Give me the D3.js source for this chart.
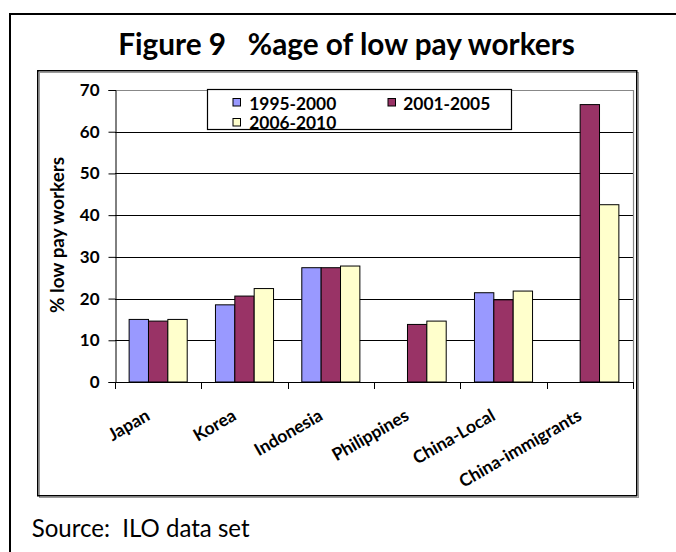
<!DOCTYPE html>
<html>
<head>
<meta charset="utf-8">
<script src="https://cdn.jsdelivr.net/npm/d3@7/dist/d3.min.js"></script>
<style>
  html, body { margin: 0; padding: 0; background: #fff; }
  svg text { font-family: Lato, "Open Sans", sans-serif; white-space: pre; }
</style>
</head>
<body>
<svg id="chart" width="676" height="552"></svg>
<script>
// ---- data ----
const categories = ["Japan", "Korea", "Indonesia", "Philippines", "China-Local", "China-immigrants"];
const seriesNames = ["1995-2000", "2001-2005", "2006-2010"];
const s1995 = [15.0, 18.5, 27.4, null, 21.4, null];
const s2001 = [14.6, 20.6, 27.4, 13.8, 19.7, 66.5];
const s2006 = [15.0, 22.4, 27.8, 14.6, 21.8, 42.5];
const yTicks = [0, 10, 20, 30, 40, 50, 60, 70];
const titleText = "Figure 9   %age of low pay workers";
const yLabel = "% low pay workers";
const sourceText = "Source:  ILO data set";

const seriesValues = [s1995, s2001, s2006];
const colors = ["#9999FF", "#993366", "#FFFFCC"];

const svg = d3.select("#chart");

function fit(sel, target) {
  const n = sel.node();
  const fs = parseFloat(sel.attr("font-size"));
  const w = n.getComputedTextLength();
  sel.attr("font-size", (fs * target / w).toFixed(2));
}

// outer frame
svg.append("rect").attr("x", 10).attr("y", 14).attr("width", 720).attr("height", 600)
  .attr("fill", "none").attr("stroke", "#000").attr("stroke-width", 2);

// title
const title = svg.append("text").attr("x", 346.5).attr("y", 54.5)
  .attr("text-anchor", "middle").attr("font-weight", "bold").attr("font-size", 28)
  .text(titleText);
fit(title, 457);

// inner chart box
svg.append("rect").attr("x", 38.5).attr("y", 71.5).attr("width", 599).attr("height", 425)
  .attr("fill", "none").attr("stroke", "#999").attr("stroke-width", 1)
  .attr("transform", "translate(1,1)");
svg.append("rect").attr("x", 37.75).attr("y", 70.75).attr("width", 599).attr("height", 425)
  .attr("fill", "none").attr("stroke", "#000").attr("stroke-width", 1.5);

// scales
const plot = { left: 115, right: 633, top: 90, bottom: 382 };
const x = d3.scaleBand().domain(categories).range([plot.left, plot.right]).paddingInner(0).paddingOuter(0);
const xs = d3.scaleBand().domain(seriesNames).range([0, x.bandwidth()]).paddingInner(0).paddingOuter(0.73);
const y = d3.scaleLinear().domain([0, 70]).range([plot.bottom, plot.top]);

// gridlines
svg.append("g").selectAll("line").data(yTicks.filter(t => t > 0 && t < 70)).join("line")
  .attr("x1", plot.left).attr("x2", plot.right)
  .attr("y1", d => Math.round(y(d)) + 0.5).attr("y2", d => Math.round(y(d)) + 0.5)
  .attr("stroke", "#000").attr("stroke-width", 1.2);

// plot area border (top & right)
svg.append("path")
  .attr("d", `M${plot.left},${plot.top + 0.5}H${plot.right + 0.5}V${plot.bottom}`)
  .attr("fill", "none").attr("stroke", "#888").attr("stroke-width", 1.2);

// bars
const groups = svg.append("g").selectAll("g").data(seriesNames).join("g")
  .attr("fill", (d, i) => colors[i]);
groups.each(function (s, si) {
  d3.select(this).selectAll("rect")
    .data(categories.map((c, ci) => ({ c, v: seriesValues[si][ci] })).filter(d => d.v != null))
    .join("rect")
    .attr("x", d => x(d.c) + xs(s))
    .attr("width", xs.bandwidth())
    .attr("y", d => y(d.v))
    .attr("height", d => y(0) - y(d.v))
    .attr("stroke", "#000").attr("stroke-width", 1);
});

// y axis
const yAxis = svg.append("g").attr("transform", `translate(${plot.left + 0.5},0)`)
  .call(d3.axisLeft(y).tickValues(yTicks).tickSize(7).tickPadding(9).tickFormat(d3.format("d")));
yAxis.select(".domain").attr("stroke", "#000");
yAxis.selectAll(".tick line").attr("stroke", "#000");
yAxis.selectAll(".tick text").attr("font-family", "Lato, 'Open Sans', sans-serif")
  .attr("font-size", 17).attr("font-weight", "bold").attr("fill", "#000");

// x axis
const xAxisG = svg.append("g");
xAxisG.append("line").attr("x1", plot.left).attr("x2", plot.right + 1)
  .attr("y1", plot.bottom + 0.5).attr("y2", plot.bottom + 0.5).attr("stroke", "#000");
const boundaries = categories.map(c => x(c)).concat([x(categories[categories.length - 1]) + x.bandwidth()]);
xAxisG.selectAll("line.tk").data(boundaries).join("line").attr("class", "tk")
  .attr("x1", d => Math.round(d) + 0.5).attr("x2", d => Math.round(d) + 0.5)
  .attr("y1", plot.bottom).attr("y2", plot.bottom + 7).attr("stroke", "#000");
xAxisG.selectAll("text").data(categories).join("text")
  .attr("transform", d => `translate(${x(d) + x.bandwidth() / 2 - 7},419) rotate(-30)`)
  .attr("text-anchor", "end").attr("font-weight", "bold").attr("font-size", 17.5)
  .text(d => d);

// y label
const yl = svg.append("text").attr("transform", "translate(64,235) rotate(-90)")
  .attr("text-anchor", "middle").attr("font-weight", "bold").attr("font-size", 15)
  .text(yLabel);
fit(yl, 156);

// legend
const lg = svg.append("g");
lg.append("rect").attr("x", 207.5).attr("y", 89.5).attr("width", 304).attr("height", 40)
  .attr("fill", "#fff").attr("stroke", "#000").attr("stroke-width", 1.2);
const legendPos = [
  { sx: 233, sy: 98.5, tx: 249.3, ty: 109.5 },
  { sx: 388, sy: 98.5, tx: 403.3, ty: 109.5 },
  { sx: 233, sy: 118.5, tx: 249.3, ty: 129 }
];
seriesNames.forEach((s, i) => {
  const p = legendPos[i];
  lg.append("rect").attr("x", p.sx).attr("y", p.sy).attr("width", 7.5).attr("height", 7.5)
    .attr("fill", colors[i]).attr("stroke", "#000").attr("stroke-width", 1);
  const t = lg.append("text").attr("x", p.tx).attr("y", p.ty)
    .attr("font-weight", "bold").attr("font-size", 16).text(s);
  fit(t, 87);
});

// source
const src = svg.append("text").attr("x", 31.7).attr("y", 536.5)
  .attr("font-size", 19).text(sourceText);
fit(src, 218);
</script>
</body>
</html>
